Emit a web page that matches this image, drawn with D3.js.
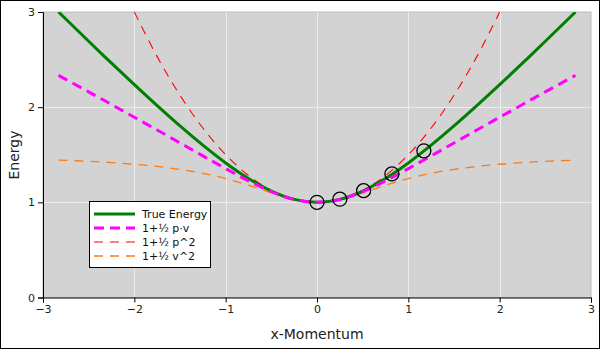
<!DOCTYPE html>
<html><head><meta charset="utf-8">
<script src="https://cdn.jsdelivr.net/npm/d3@7"></script>
<style>body{margin:0;background:#fff}svg{display:block;font-family:"DejaVu Sans",sans-serif}</style>
</head><body>
<svg id="c" width="600" height="349"></svg>
<script>
// momentum samples
const pTrue = [-2.83,-2.5,-2.25,-2,-1.75,-1.5,-1.25,-1,-0.75,-0.5,-0.25,0,0.25,0.5,0.75,1,1.25,1.5,1.75,2,2.25,2.5,2.83];
const eTrue = [3.00,2.693,2.462,2.236,2.016,1.803,1.601,1.414,1.25,1.118,1.031,1,1.031,1.118,1.25,1.414,1.601,1.803,2.016,2.236,2.462,2.693,3.00];
const ePV   = [2.334,2.161,2.028,1.894,1.760,1.624,1.488,1.354,1.225,1.112,1.030,1,1.030,1.112,1.225,1.354,1.488,1.624,1.760,1.894,2.028,2.161,2.334];
const pP2 = [-2,-1.75,-1.5,-1.25,-1,-0.75,-0.5,-0.25,0,0.25,0.5,0.75,1,1.25,1.5,1.75,2];
const eP2 = [3,2.531,2.125,1.781,1.5,1.281,1.125,1.031,1,1.031,1.125,1.281,1.5,1.781,2.125,2.531,3];
const eV2 = [1.444,1.431,1.418,1.400,1.377,1.346,1.305,1.25,1.18,1.1,1.029,1,1.029,1.1,1.18,1.25,1.305,1.346,1.377,1.400,1.418,1.431,1.444];
const pMarks = [0,0.25,0.51,0.82,1.17];
const eMarks = [1.0,1.033,1.123,1.299,1.541];
const xTicks = [-3,-2,-1,0,1,2,3];
const yTicks = [0,1,2,3];
const legendLabels = ["True Energy","1+½ p·v","1+½ p^2","1+½ v^2"];

const svg = d3.select("#c");
const L=43, R=591, T=12, B=297.5;
const x = d3.scaleLinear().domain([-3,3]).range([L,R]);
const y = d3.scaleLinear().domain([0,3]).range([B,T]);

svg.append("rect").attr("x",0.5).attr("y",0.5).attr("width",599).attr("height",348)
  .attr("fill","#fff").attr("stroke","#000");
svg.append("rect").attr("x",L).attr("y",T).attr("width",R-L).attr("height",B-T)
  .attr("fill","#d3d3d3").attr("stroke","#bdbdbd");

const clip = svg.append("clipPath").attr("id","pc").append("rect")
  .attr("x",L).attr("y",T).attr("width",R-L).attr("height",B-T);

const grid = svg.append("g");
grid.selectAll(".gx").data(xTicks.slice(1,-1)).join("line")
  .attr("x1",d=>Math.round(x(d))+0.5).attr("x2",d=>Math.round(x(d))+0.5).attr("y1",T).attr("y2",B)
  .attr("stroke","#ececec").attr("stroke-width",1);
grid.selectAll(".gy").data(yTicks.slice(1,-1)).join("line")
  .attr("y1",d=>Math.round(y(d))+0.5).attr("y2",d=>Math.round(y(d))+0.5).attr("x1",L).attr("x2",R)
  .attr("stroke","#ececec").attr("stroke-width",1);

const g = svg.append("g").attr("clip-path","url(#pc)");
const line = d3.line().curve(d3.curveCatmullRom.alpha(0.5));
const mk = (ps,es)=>ps.map((p,i)=>[x(p),y(es[i])]);

g.append("path").attr("d",line(mk(pTrue,eV2))).attr("fill","none")
  .attr("stroke","#ff7a12").attr("stroke-width",1.3).attr("stroke-dasharray","9,7");
g.append("path").attr("d",line(mk(pP2,eP2))).attr("fill","none")
  .attr("stroke","#ff0000").attr("stroke-width",1.1).attr("stroke-dasharray","9,7");
g.append("path").attr("d",line(mk(pTrue,eTrue))).attr("fill","none")
  .attr("stroke","#008000").attr("stroke-width",3);
g.append("path").attr("d",line(mk(pTrue,ePV))).attr("fill","none")
  .attr("stroke","#ff00ff").attr("stroke-width",3).attr("stroke-dasharray","10,6");

g.selectAll("circle.m").data(pMarks).join("circle")
  .attr("cx",d=>x(d)).attr("cy",(d,i)=>y(eMarks[i])).attr("r",7)
  .attr("fill","none").attr("stroke","#000").attr("stroke-width",1.3);

const xa = svg.append("g").attr("transform",`translate(0,${B})`)
  .call(d3.axisBottom(x).tickValues(xTicks).tickSize(5).tickPadding(3).tickFormat(d3.format("d")));
const ya = svg.append("g").attr("transform",`translate(${L},0)`)
  .call(d3.axisLeft(y).tickValues(yTicks).tickSize(5).tickPadding(3).tickFormat(d3.format("d")));
[xa,ya].forEach(a=>{a.selectAll("text").attr("font-size",11).attr("font-family","DejaVu Sans").attr("fill","#222");
  a.select(".domain").attr("stroke","#000"); a.selectAll(".tick line").attr("stroke","#000");});
xa.selectAll("text").text(d=>d<0?"\u2212"+Math.abs(d):d);

svg.append("text").attr("x",(L+R)/2).attr("y",339).attr("text-anchor","middle")
  .attr("font-size",14).attr("fill","#222").text("x-Momentum");
svg.append("text").attr("transform","translate(19,155) rotate(-90)").attr("text-anchor","middle")
  .attr("font-size",14).attr("fill","#222").text("Energy");

// legend
const lg = svg.append("g");
lg.append("rect").attr("x",89.5).attr("y",201.5).attr("width",121).attr("height",66)
  .attr("fill","#fff").attr("stroke","#000");
const styles = [
  {c:"#008000",w:3,d:null},
  {c:"#ff00ff",w:3,d:"10,6"},
  {c:"#ff0000",w:1.1,d:"9,7"},
  {c:"#ff7a12",w:1.3,d:"9,7"}];
legendLabels.forEach((t,i)=>{
  const yy = 214 + i*14;
  lg.append("line").attr("x1",94).attr("x2",135).attr("y1",yy).attr("y2",yy)
    .attr("stroke",styles[i].c).attr("stroke-width",styles[i].w).attr("stroke-dasharray",styles[i].d);
  lg.append("text").attr("x",142).attr("y",yy+4).attr("font-size",11).attr("fill","#111").text(t);
});
</script>
</body></html>
